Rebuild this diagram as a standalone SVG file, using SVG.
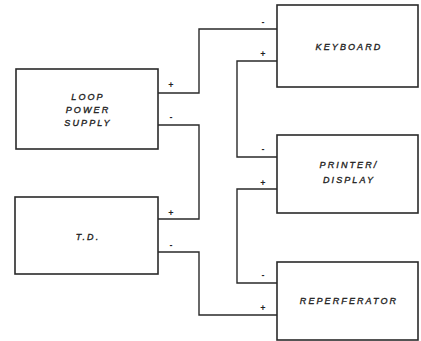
<svg xmlns="http://www.w3.org/2000/svg" width="421" height="341" viewBox="0 0 421 341">
<style>
.box{fill:#fff;stroke:#2a2a2a;stroke-width:1.6}
.w{fill:none;stroke:#2a2a2a;stroke-width:1.4}
.t{font-family:"Liberation Sans",Arial,sans-serif;font-style:italic;font-size:9px;letter-spacing:2.1px;fill:#222;stroke:#222;stroke-width:0.35;text-anchor:middle}
.s{font-family:"Liberation Sans",Arial,sans-serif;font-size:9px;font-weight:bold;fill:#222;text-anchor:middle}
</style>
<rect width="421" height="341" fill="#fff"/>
<g id="connectors">
<polyline class="w" points="158,93 199,93 199,29 277,29"/>
<polyline class="w" points="277,61 237,61 237,157 277,157"/>
<polyline class="w" points="158,125 199,125 199,219 158,219"/>
<polyline class="w" points="158,252 199,252 199,315 277,315"/>
<polyline class="w" points="277,189 237,189 237,283 277,283"/>
</g>
<g id="loop-power-supply">
<rect class="box" x="16" y="69" width="142" height="80"/>
<text class="t" x="88" y="100">LOOP</text>
<text class="t" x="88" y="113">POWER</text>
<text class="t" x="88" y="126">SUPPLY</text>
<text class="s" x="171" y="88">+</text>
<text class="s" x="171" y="120">-</text>
</g>
<g id="td">
<rect class="box" x="15" y="197" width="143" height="77"/>
<text class="t" x="88" y="240">T.D.</text>
<text class="s" x="171" y="216">+</text>
<text class="s" x="171" y="248">-</text>
</g>
<g id="keyboard">
<rect class="box" x="277" y="5" width="141" height="82"/>
<text class="t" x="349" y="50">KEYBOARD</text>
<text class="s" x="263" y="25">-</text>
<text class="s" x="263" y="57">+</text>
</g>
<g id="printer-display">
<rect class="box" x="277" y="135" width="141" height="78"/>
<text class="t" x="349" y="168">PRINTER/</text>
<text class="t" x="349" y="183">DISPLAY</text>
<text class="s" x="263" y="152">-</text>
<text class="s" x="263" y="186">+</text>
</g>
<g id="reperferator">
<rect class="box" x="277" y="262" width="141" height="78"/>
<text class="t" x="349" y="304">REPERFERATOR</text>
<text class="s" x="263" y="278">-</text>
<text class="s" x="263" y="311">+</text>
</g>
</svg>
